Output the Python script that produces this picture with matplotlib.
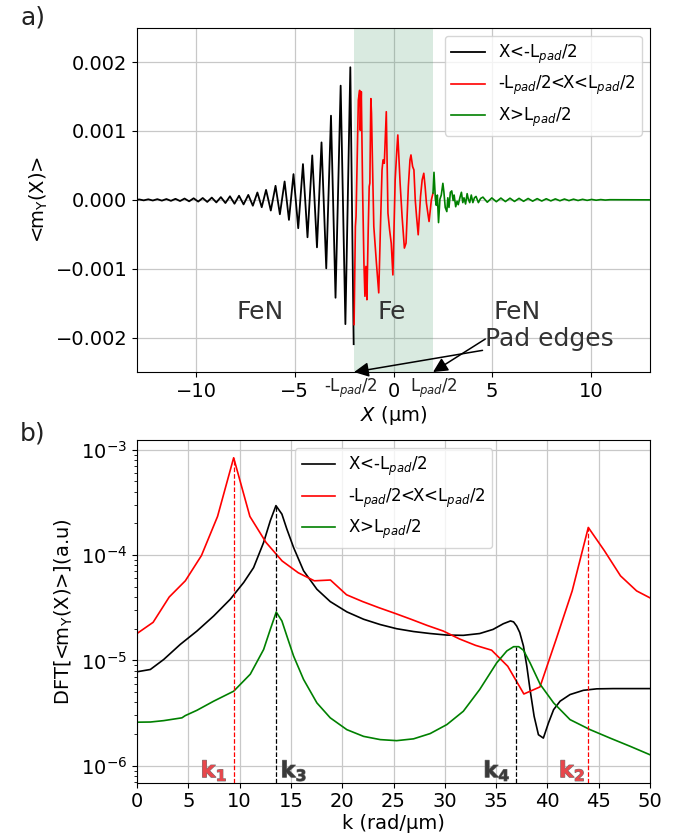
import matplotlib
matplotlib.use("Agg")
import matplotlib.pyplot as plt
from matplotlib.ticker import MultipleLocator
import matplotlib.patheffects as pe
import matplotlib.transforms as mtransforms

# ---------------- data: panel a (extrema of <m_Y(X)>) ----------------
black_x = [-13.0, -12.89, -12.66, -12.43, -12.20, -11.97, -11.74, -11.51, -11.28, -11.05,
           -10.82, -10.59, -10.36, -10.13, -9.90, -9.67, -9.44, -9.21, -8.98, -8.75,
           -8.52, -8.29, -8.06, -7.83, -7.60, -7.36, -7.13, -6.90, -6.68, -6.46,
           -6.22, -5.98, -5.76, -5.52, -5.30, -5.07, -4.83, -4.59, -4.36, -4.12,
           -3.88, -3.65, -3.41, -3.17, -2.94, -2.68, -2.44, -2.19, -2.02]
black_y = [0.0, 0.000006, -0.000007, 0.000008, -0.000009, 0.000010, -0.000011, 0.000012, -0.000014, 0.000015,
           -0.000017, 0.000019, -0.000021, 0.000023, -0.000025, 0.000027, -0.000030, 0.000033, -0.000037, 0.000040,
           -0.000046, 0.000052, -0.000056, 0.000060, -0.000066, 0.000072, -0.000085, 0.000107, -0.000107, 0.000145,
           -0.000155, 0.000204, -0.000209, 0.000267, -0.000291, 0.000374, -0.000412, 0.000519, -0.000543, 0.000645,
           -0.000689, 0.000834, -0.000994, 0.001222, -0.001421, 0.001658, -0.001804, 0.001925, -0.002095]

red_x = [-2.0, -1.933, -1.90, -1.783, -1.717, -1.683, -1.633, -1.567, -1.50, -1.45,
         -1.40, -1.35, -1.283, -1.233, -1.20, -1.15, -1.117, -1.067, -1.0, -0.867,
         -0.75, -0.667, -0.583, -0.533, -0.467, -0.367, -0.283, -0.20, -0.117, -0.033,
         0.083, 0.167, 0.217, 0.333, 0.433, 0.55, 0.633, 0.75, 0.833, 0.883,
         0.967, 1.033, 1.10, 1.167, 1.25, 1.367, 1.45, 1.533, 1.60, 1.667,
         1.75, 1.80, 1.917, 2.0]
red_y = [-0.00181, -0.000386, -0.000242, 0.00145, 0.00159, 0.00101, 0.00157, 0.000145, -0.000918, -0.00140,
         -0.000966, -0.00145, -0.000435, 0.000193, 0.000242, 0.00147, 0.00126, 0.000531, -0.000386, -0.000918,
         -0.00135, -0.000435, 0.000435, 0.00058, 0.000531, 0.00128, -0.000193, -0.000435, -0.000628, -0.00109,
         0.00029, 0.000725, 0.000942, 0.000242, -0.000242, -0.0007, -0.000628, 0.000193, 0.00058, 0.000652,
         0.000483, 0.000435, 0.0, -0.000242, -0.000507, 0.000048, 0.00029, 0.000386, 0.000193, -0.000048,
         -0.000217, -0.000314, 0.0, 0.000097]

green_x = [2.00, 2.05, 2.12, 2.17, 2.22, 2.28, 2.35, 2.42, 2.50, 2.55,
           2.62, 2.70, 2.75, 2.81, 2.88, 2.95, 3.02, 3.07, 3.15, 3.22,
           3.28, 3.37, 3.44, 3.51, 3.57, 3.65, 3.73, 3.79, 3.86, 3.94,
           4.02, 4.10, 4.18, 4.30, 4.41, 4.53, 4.75, 4.98, 5.21, 5.44,
           5.67, 5.90, 6.13, 6.36, 6.59, 6.82, 7.05, 7.28, 7.51, 7.74,
           7.97, 8.20, 8.43, 8.66, 8.89, 9.12, 9.35, 9.58, 9.81, 10.04,
           10.27, 10.50, 10.73, 10.96, 13.0]
green_y = [0.00010, 0.00040, 0.00001, -0.00008, 0.00007, -0.00033, 0.00001, 0.00007, 0.00024, 0.00012,
           -0.00011, -0.00017, 0.00003, -0.00011, 0.00011, 0.00013, -0.00001, 0.00007, -0.00010, -0.00002,
           -0.00007, 0.00004, 0.00011, -0.00004, 0.00003, -0.00006, 0.00009, 0.00001, -0.00004, 0.00007,
           -0.00004, 0.00003, 0.00005, -0.00004, 0.00002, 0.00004, -0.000034, 0.000028, -0.000027, 0.000026,
           -0.000025, 0.000024, -0.000023, 0.000022, -0.000021, 0.000020, -0.000019, 0.000018, -0.000017, 0.000016,
           -0.000015, 0.000014, -0.000013, 0.000012, -0.000011, 0.000010, -0.000009, 0.000008, -0.000007, 0.000006,
           -0.000005, 0.000004, -0.000003, 0.000002, 0.0]

# ---------------- data: panel b (DFT amplitudes) ----------------
red_k = [0.0, 1.57, 3.14, 4.71, 6.28, 7.85, 9.42, 11.0, 12.57, 14.14,
         15.71, 17.28, 18.85, 20.42, 21.99, 23.56, 25.13, 26.7, 28.27, 29.85,
         31.42, 32.99, 34.56, 36.13, 37.7, 39.27, 40.84, 42.41, 43.98, 45.55,
         47.12, 48.69, 50.27]
red_dft = [1.8e-5, 2.3e-5, 4.0e-5, 5.7e-5, 9.9e-5, 2.33e-4, 8.4e-4, 2.33e-4, 1.32e-4, 8.8e-5,
           6.8e-5, 5.7e-5, 5.8e-5, 4.2e-5, 3.62e-5, 3.17e-5, 2.8e-5, 2.46e-5, 2.15e-5, 1.9e-5,
           1.6e-5, 1.39e-5, 1.25e-5, 8.8e-6, 4.8e-6, 5.6e-6, 1.58e-5, 4.57e-5, 1.83e-4, 1.1e-4,
           6.35e-5, 4.57e-5, 3.8e-5]

black_k = [0.0, 1.3, 2.6, 4.22, 5.84, 7.47, 9.09, 10.4, 11.36, 12.34,
           12.99, 13.54, 14.12, 14.6, 15.26, 16.23, 17.53, 18.83, 20.45, 22.08,
           23.7, 25.3, 26.95, 28.57, 30.2, 31.8, 33.4, 34.7, 35.7, 36.4,
           36.7, 37.0, 37.3, 37.66, 37.99, 38.3, 38.7, 39.12, 39.6, 40.1,
           40.6, 41.23, 42.2, 43.5, 44.8, 46.4, 48.05, 50.0]
black_dft = [7.8e-6, 8.2e-6, 1.02e-5, 1.42e-5, 1.9e-5, 2.64e-5, 3.81e-5, 5.5e-5, 7.6e-5, 1.32e-4,
             2.12e-4, 2.95e-4, 2.45e-4, 1.77e-4, 1.18e-4, 7.1e-5, 4.74e-5, 3.62e-5, 2.89e-5, 2.46e-5,
             2.19e-5, 2.0e-5, 1.88e-5, 1.8e-5, 1.74e-5, 1.73e-5, 1.8e-5, 1.97e-5, 2.23e-5, 2.37e-5,
             2.32e-5, 2.12e-5, 1.84e-5, 1.37e-5, 8.8e-6, 5.3e-6, 2.95e-6, 1.97e-6, 1.83e-6, 2.55e-6,
             3.41e-6, 4.1e-6, 4.74e-6, 5.2e-6, 5.37e-6, 5.4e-6, 5.4e-6, 5.4e-6]

green_k = [0.0, 1.3, 2.6, 4.38, 4.7, 5.84, 7.47, 9.42, 11.04, 12.34,
           12.99, 13.57, 14.12, 14.6, 15.26, 16.23, 17.53, 18.83, 20.45, 22.08,
           23.7, 25.3, 26.95, 28.57, 30.2, 31.8, 33.4, 35.06, 36.04, 36.7,
           37.2, 37.66, 38.3, 39.3, 40.6, 42.2, 44.16, 46.1, 48.05, 50.0]
green_dft = [2.59e-6, 2.6e-6, 2.68e-6, 2.85e-6, 2.99e-6, 3.36e-6, 4.1e-6, 5.1e-6, 7.4e-6, 1.27e-5,
             1.97e-5, 2.88e-5, 2.37e-5, 1.71e-5, 1.1e-5, 6.6e-6, 3.95e-6, 2.85e-6, 2.2e-6, 1.9e-6,
             1.77e-6, 1.73e-6, 1.8e-6, 2.02e-6, 2.46e-6, 3.29e-6, 5.3e-6, 9.5e-6, 1.23e-5, 1.35e-5,
             1.35e-5, 1.25e-5, 9.5e-6, 5.9e-6, 3.95e-6, 2.74e-6, 2.2e-6, 1.83e-6, 1.53e-6, 1.27e-6]

peak_k = [9.42, 13.54, 36.95, 43.98]
peak_val = [8.4e-4, 2.95e-4, 1.35e-5, 1.83e-4]
peak_col = ["red", "black", "black", "red"]
peak_lab = [r"$\mathbf{k_1}$", r"$\mathbf{k_3}$", r"$\mathbf{k_4}$", r"$\mathbf{k_2}$"]
peak_lab_k = [8.8, 14.0, 36.4, 43.7]
peak_lab_ha = ["right", "left", "right", "right"]
peak_lab_col = ["#e8474c", "#3a3a3a", "#3a3a3a", "#e8474c"]

legend_labels = [r"X<-L$_{pad}$/2", r"-L$_{pad}$/2<X<L$_{pad}$/2", r"X>L$_{pad}$/2"]
pad_half = 2.0

# ---------------- figure ----------------
fig = plt.figure(figsize=(6.99, 8.38), dpi=100)
ax1 = fig.add_axes([0.196, 0.556, 0.734, 0.411])
ax2 = fig.add_axes([0.196, 0.066, 0.734, 0.409])

# panel a
ax1.axvspan(-pad_half, pad_half, color="#2e8b57", alpha=0.18, lw=0, zorder=1)
ax1.plot(black_x, black_y, color="black", lw=1.3, label=legend_labels[0], zorder=3)
ax1.plot(red_x, red_y, color="red", lw=1.2, label=legend_labels[1], zorder=3)
ax1.plot(green_x, green_y, color="green", lw=1.2, label=legend_labels[2], zorder=3)
ax1.set_xlim(-13, 13)
ax1.set_ylim(-0.0025, 0.0025)
ax1.set_xticks([-10, -5, 0, 5, 10])
ax1.set_yticks([-0.002, -0.001, 0.0, 0.001, 0.002])
ax1.grid(True, color="#c8c8c8", lw=0.9, zorder=0)
ax1.set_axisbelow(True)
ax1.tick_params(labelsize=14)
ax1.set_xlabel(r"$X$ (µm)", fontsize=14, labelpad=2)
ax1.set_ylabel(r"<m$_\mathrm{Y}$(X)>", fontsize=14)
ax1.legend(loc="upper right", fontsize=12, framealpha=0.8)

txt_col = "#333333"
ax1.text(-6.75, -0.00163, "FeN", fontsize=18, color=txt_col, ha="center", va="center")
ax1.text(-0.07, -0.00163, "Fe", fontsize=18, color=txt_col, ha="center", va="center")
ax1.text(6.27, -0.00163, "FeN", fontsize=18, color=txt_col, ha="center", va="center")
for xe in (-pad_half, pad_half):
    ax1.annotate("Pad edges" if xe < 0 else "", xy=(xe, -0.0025), xytext=(4.65, -0.00202),
                 fontsize=18, color=txt_col, ha="left", va="center",
                 arrowprops=dict(arrowstyle="-|>", color="black", lw=1.1,
                                 mutation_scale=22, shrinkA=0, shrinkB=0),
                 annotation_clip=False)
trans = mtransforms.blended_transform_factory(ax1.transData, ax1.transAxes)
ax1.text(-pad_half - 0.15, -0.014, r"-L$_{pad}$/2", fontsize=12, ha="center", va="top",
         transform=trans, color="#222222")
ax1.text(pad_half + 0.05, -0.014, r"L$_{pad}$/2", fontsize=12, ha="center", va="top",
         transform=trans, color="#222222")

# panel b
ax2.plot(black_k, black_dft, color="black", lw=1.2, label=legend_labels[0])
ax2.plot(red_k, red_dft, color="red", lw=1.2, label=legend_labels[1])
ax2.plot(green_k, green_dft, color="green", lw=1.2, label=legend_labels[2])
ax2.set_yscale("log")
ax2.set_xlim(0, 50)
ax2.set_ylim(6.9e-7, 1.24e-3)
for kk, vv, cc in zip(peak_k, peak_val, peak_col):
    ax2.plot([kk, kk], [6.9e-7, vv], color=cc, ls="--", lw=0.9)
for kk, lab, ha, cc in zip(peak_lab_k, peak_lab, peak_lab_ha, peak_lab_col):
    ax2.text(kk, 8.9e-7, lab, fontsize=16, color=cc, ha=ha, va="center",
             path_effects=[pe.withStroke(linewidth=0.8, foreground="#777777")])
ax2.xaxis.set_major_locator(MultipleLocator(5))
ax2.grid(True, which="major", color="#c8c8c8", lw=0.9)
ax2.set_axisbelow(True)
ax2.tick_params(labelsize=14)
ax2.set_xlabel("k (rad/µm)", fontsize=14, labelpad=2)
ax2.set_ylabel(r"DFT[<m$_\mathrm{Y}$(X)>](a.u)", fontsize=14)
ax2.legend(loc="upper center", fontsize=12, framealpha=0.8)

fig.text(20 / 699, 1 - 17 / 838, "a)", fontsize=18, ha="left", va="center", color="#222222")
fig.text(20 / 699, 1 - 433 / 838, "b)", fontsize=18, ha="left", va="center", color="#222222")

fig.savefig("out.png", dpi=100)
